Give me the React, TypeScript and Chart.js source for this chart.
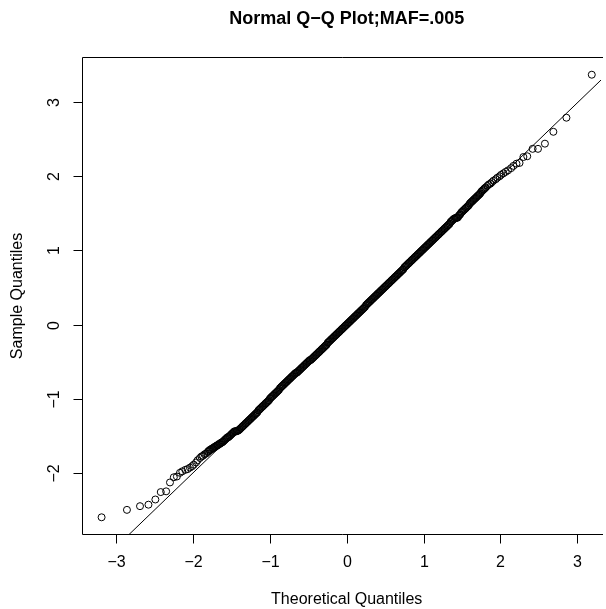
import React, { useEffect, useRef } from "react";
import { Chart, registerables } from "chart.js";

Chart.register(...registerables);

// ---- data ----
const lowerTailX = [-3.19, -2.86, -2.69, -2.58, -2.49, -2.42, -2.35, -2.30, -2.25, -2.21, -2.17, -2.14, -2.10, -2.07, -2.04, -2.01, -1.99, -1.96, -1.94, -1.91, -1.89, -1.87, -1.85, -1.83, -1.81];
const lowerTailY = [-2.60, -2.50, -2.45, -2.43, -2.36, -2.26, -2.25, -2.13, -2.06, -2.05, -2.00, -1.98, -1.96, -1.95, -1.93, -1.91, -1.89, -1.86, -1.83, -1.80, -1.78, -1.77, -1.75, -1.74, -1.72];

const middleX = [
  -1.80, -1.79, -1.78, -1.77, -1.76, -1.75, -1.74, -1.73, -1.72, -1.71,
  -1.70, -1.69, -1.68, -1.67, -1.66, -1.65, -1.64, -1.63, -1.62, -1.61,
  -1.60, -1.59, -1.58, -1.57, -1.56, -1.55, -1.54, -1.53, -1.52, -1.51,
  -1.50, -1.49, -1.48, -1.47, -1.46, -1.45, -1.44, -1.43, -1.42, -1.41,
  -1.40, -1.39, -1.38, -1.37, -1.36, -1.35, -1.34, -1.33, -1.32, -1.31,
  -1.30, -1.29, -1.28, -1.27, -1.26, -1.25, -1.24, -1.23, -1.22, -1.21,
  -1.20, -1.19, -1.18, -1.17, -1.16, -1.15, -1.14, -1.13, -1.12, -1.11,
  -1.10, -1.09, -1.08, -1.07, -1.06, -1.05, -1.04, -1.03, -1.02, -1.01,
  -1.00, -0.99, -0.98, -0.97, -0.96, -0.95, -0.94, -0.93, -0.92, -0.91,
  -0.90, -0.89, -0.88, -0.87, -0.86, -0.85, -0.84, -0.83, -0.82, -0.81,
  -0.80, -0.79, -0.78, -0.77, -0.76, -0.75, -0.74, -0.73, -0.72, -0.71,
  -0.70, -0.69, -0.68, -0.67, -0.66, -0.65, -0.64, -0.63, -0.62, -0.61,
  -0.60, -0.59, -0.58, -0.57, -0.56, -0.55, -0.54, -0.53, -0.52, -0.51,
  -0.50, -0.49, -0.48, -0.47, -0.46, -0.45, -0.44, -0.43, -0.42, -0.41,
  -0.40, -0.39, -0.38, -0.37, -0.36, -0.35, -0.34, -0.33, -0.32, -0.31,
  -0.30, -0.29, -0.28, -0.27, -0.26, -0.25, -0.24, -0.23, -0.22, -0.21,
  -0.20, -0.19, -0.18, -0.17, -0.16, -0.15, -0.14, -0.13, -0.12, -0.11,
  -0.10, -0.09, -0.08, -0.07, -0.06, -0.05, -0.04, -0.03, -0.02, -0.01,
  0.00, 0.01, 0.02, 0.03, 0.04, 0.05, 0.06, 0.07, 0.08, 0.09,
  0.10, 0.11, 0.12, 0.13, 0.14, 0.15, 0.16, 0.17, 0.18, 0.19,
  0.20, 0.21, 0.22, 0.23, 0.24, 0.25, 0.26, 0.27, 0.28, 0.29,
  0.30, 0.31, 0.32, 0.33, 0.34, 0.35, 0.36, 0.37, 0.38, 0.39,
  0.40, 0.41, 0.42, 0.43, 0.44, 0.45, 0.46, 0.47, 0.48, 0.49,
  0.50, 0.51, 0.52, 0.53, 0.54, 0.55, 0.56, 0.57, 0.58, 0.59,
  0.60, 0.61, 0.62, 0.63, 0.64, 0.65, 0.66, 0.67, 0.68, 0.69,
  0.70, 0.71, 0.72, 0.73, 0.74, 0.75, 0.76, 0.77, 0.78, 0.79,
  0.80, 0.81, 0.82, 0.83, 0.84, 0.85, 0.86, 0.87, 0.88, 0.89,
  0.90, 0.91, 0.92, 0.93, 0.94, 0.95, 0.96, 0.97, 0.98, 0.99,
  1.00, 1.01, 1.02, 1.03, 1.04, 1.05, 1.06, 1.07, 1.08, 1.09,
  1.10, 1.11, 1.12, 1.13, 1.14, 1.15, 1.16, 1.17, 1.18, 1.19,
  1.20, 1.21, 1.22, 1.23, 1.24, 1.25, 1.26, 1.27, 1.28, 1.29,
  1.30, 1.31, 1.32, 1.33, 1.34, 1.35, 1.36, 1.37, 1.38, 1.39,
  1.40, 1.41, 1.42, 1.43, 1.44, 1.45, 1.46, 1.47, 1.48, 1.49,
  1.50, 1.51, 1.52, 1.53, 1.54, 1.55, 1.56, 1.57, 1.58, 1.59,
  1.60, 1.61, 1.62, 1.63, 1.64, 1.65, 1.66, 1.67, 1.68, 1.69,
  1.70, 1.71, 1.72, 1.73, 1.74, 1.75, 1.76, 1.77, 1.78, 1.79, 1.80,
];
const middleY = [
  -1.71, -1.70, -1.69, -1.69, -1.68, -1.67, -1.67, -1.66, -1.65, -1.65,
  -1.64, -1.63, -1.63, -1.62, -1.61, -1.61, -1.60, -1.59, -1.59, -1.58,
  -1.57, -1.56, -1.55, -1.54, -1.53, -1.52, -1.52, -1.51, -1.50, -1.49,
  -1.48, -1.47, -1.46, -1.45, -1.44, -1.44, -1.44, -1.44, -1.43, -1.43,
  -1.42, -1.41, -1.40, -1.39, -1.38, -1.37, -1.36, -1.35, -1.34, -1.33,
  -1.32, -1.31, -1.30, -1.29, -1.28, -1.27, -1.26, -1.25, -1.24, -1.23,
  -1.22, -1.21, -1.20, -1.19, -1.18, -1.16, -1.15, -1.14, -1.13, -1.12,
  -1.11, -1.10, -1.09, -1.08, -1.07, -1.06, -1.05, -1.04, -1.03, -1.02,
  -1.00, -0.99, -0.98, -0.97, -0.96, -0.95, -0.94, -0.93, -0.92, -0.91,
  -0.90, -0.89, -0.88, -0.86, -0.85, -0.84, -0.83, -0.82, -0.81, -0.80,
  -0.79, -0.78, -0.77, -0.76, -0.75, -0.74, -0.73, -0.72, -0.71, -0.70,
  -0.69, -0.68, -0.67, -0.66, -0.65, -0.65, -0.64, -0.63, -0.62, -0.61,
  -0.60, -0.59, -0.58, -0.57, -0.56, -0.55, -0.54, -0.53, -0.52, -0.51,
  -0.50, -0.49, -0.48, -0.48, -0.47, -0.46, -0.45, -0.44, -0.43, -0.42,
  -0.41, -0.40, -0.39, -0.38, -0.37, -0.36, -0.35, -0.34, -0.33, -0.32,
  -0.31, -0.30, -0.29, -0.28, -0.27, -0.25, -0.24, -0.23, -0.22, -0.21,
  -0.20, -0.19, -0.18, -0.17, -0.16, -0.15, -0.14, -0.13, -0.12, -0.11,
  -0.10, -0.09, -0.08, -0.07, -0.06, -0.05, -0.04, -0.03, -0.02, -0.01,
  0.00, 0.01, 0.02, 0.03, 0.04, 0.05, 0.06, 0.07, 0.08, 0.09,
  0.10, 0.11, 0.12, 0.13, 0.14, 0.15, 0.16, 0.17, 0.18, 0.19,
  0.20, 0.21, 0.22, 0.23, 0.24, 0.26, 0.27, 0.28, 0.29, 0.30,
  0.31, 0.32, 0.33, 0.34, 0.35, 0.36, 0.37, 0.38, 0.39, 0.40,
  0.41, 0.42, 0.43, 0.44, 0.45, 0.46, 0.47, 0.48, 0.49, 0.50,
  0.51, 0.52, 0.53, 0.54, 0.55, 0.56, 0.57, 0.58, 0.59, 0.60,
  0.61, 0.62, 0.63, 0.64, 0.65, 0.66, 0.67, 0.68, 0.69, 0.70,
  0.71, 0.72, 0.73, 0.74, 0.75, 0.77, 0.78, 0.79, 0.80, 0.81,
  0.82, 0.83, 0.84, 0.85, 0.86, 0.87, 0.88, 0.89, 0.90, 0.91,
  0.92, 0.93, 0.94, 0.95, 0.96, 0.97, 0.98, 0.99, 1.00, 1.01,
  1.02, 1.03, 1.04, 1.05, 1.06, 1.07, 1.08, 1.09, 1.10, 1.11,
  1.12, 1.13, 1.14, 1.15, 1.16, 1.17, 1.18, 1.19, 1.20, 1.21,
  1.22, 1.23, 1.24, 1.25, 1.26, 1.27, 1.28, 1.29, 1.30, 1.31,
  1.32, 1.33, 1.34, 1.35, 1.36, 1.38, 1.39, 1.40, 1.41, 1.42,
  1.43, 1.43, 1.44, 1.44, 1.44, 1.45, 1.47, 1.48, 1.49, 1.51,
  1.52, 1.53, 1.54, 1.55, 1.56, 1.57, 1.58, 1.59, 1.60, 1.61,
  1.63, 1.64, 1.65, 1.66, 1.67, 1.68, 1.69, 1.70, 1.71, 1.72,
  1.73, 1.74, 1.75, 1.76, 1.77, 1.79, 1.80, 1.81, 1.82, 1.83, 1.84,
];

const upperTailX = [1.81, 1.83, 1.85, 1.87, 1.89, 1.91, 1.94, 1.96, 1.99, 2.01, 2.04, 2.07, 2.10, 2.14, 2.17, 2.21, 2.25, 2.30, 2.35, 2.42, 2.49, 2.58, 2.69, 2.86, 3.19];
const upperTailY = [1.85, 1.87, 1.89, 1.90, 1.92, 1.94, 1.96, 1.98, 2.00, 2.02, 2.04, 2.06, 2.08, 2.11, 2.14, 2.17, 2.18, 2.26, 2.27, 2.37, 2.37, 2.44, 2.60, 2.79, 3.37];

// reference line (qqline): intercept and slope
const qqIntercept = -0.005;
const qqSlope = 0.998;

// axes
const xTicks = [-3, -2, -1, 0, 1, 2, 3];
const yTicks = [-2, -1, 0, 1, 2, 3];
const xRange = [-3.445, 3.31];
const yRange = [-2.839, 3.609];

const mainTitle = "Normal Q\u2212Q Plot;MAF=.005";
const xTitle = "Theoretical Quantiles";
const yTitle = "Sample Quantiles";

const FONT_FAMILY = '"Liberation Sans", Arial, Helvetica, sans-serif';

const fmt = (v: number) => (v < 0 ? "\u2212" + Math.abs(v) : String(v));

const rAxesPlugin = {
  id: "rAxes",
  afterDraw(chart: any) {
    const { ctx, chartArea: ca, scales } = chart;
    const xs = scales.x;
    const ys = scales.y;
    const L = Math.round(ca.left) + 0.5;
    const T = Math.round(ca.top) + 0.5;
    const B = Math.round(ca.bottom) - 0.5;
    const R = ca.right + 2;
    ctx.save();
    ctx.strokeStyle = "#000";
    ctx.fillStyle = "#000";
    ctx.lineWidth = 1;
    // box (right side lies outside the cropped canvas)
    ctx.beginPath();
    ctx.moveTo(R, T);
    ctx.lineTo(L, T);
    ctx.lineTo(L, B);
    ctx.lineTo(R, B);
    ctx.stroke();

    const tl = 9;
    ctx.font = `16px ${FONT_FAMILY}`;
    ctx.textAlign = "center";
    ctx.textBaseline = "middle";
    xTicks.forEach((v) => {
      const px = Math.round(xs.getPixelForValue(v)) + 0.5;
      ctx.beginPath();
      ctx.moveTo(px, B);
      ctx.lineTo(px, B + tl);
      ctx.stroke();
      ctx.fillText(fmt(v), px, B + 28);
    });
    yTicks.forEach((v) => {
      const py = Math.round(ys.getPixelForValue(v)) + 0.5;
      ctx.beginPath();
      ctx.moveTo(L, py);
      ctx.lineTo(L - tl, py);
      ctx.stroke();
      ctx.save();
      ctx.translate(L - 28, py);
      ctx.rotate(-Math.PI / 2);
      ctx.fillText(fmt(v), 0, 0);
      ctx.restore();
    });

    const cx = (xs.getPixelForValue(xRange[0]) + xs.getPixelForValue(-xRange[0])) / 2;
    // axis titles
    ctx.fillText(xTitle, cx, B + 65);
    const cy = (ca.top + ca.bottom) / 2;
    ctx.save();
    ctx.translate(L - 65, cy);
    ctx.rotate(-Math.PI / 2);
    ctx.fillText(yTitle, 0, 0);
    ctx.restore();

    // main title
    ctx.font = `bold 18px ${FONT_FAMILY}`;
    ctx.fillText(mainTitle, cx, 19);
    ctx.restore();
  },
};

export default function App() {
  const canvasRef = useRef<HTMLCanvasElement | null>(null);

  useEffect(() => {
    const canvas = canvasRef.current;
    if (!canvas) return;
    const xs = [...lowerTailX, ...middleX, ...upperTailX];
    const ysv = [...lowerTailY, ...middleY, ...upperTailY];
    const points = xs.map((x, i) => ({ x, y: ysv[i] }));
    const lineData = xRange.map((x) => ({ x, y: qqIntercept + qqSlope * x }));

    const chart = new Chart(canvas, {
      type: "scatter",
      data: {
        datasets: [
          {
            type: "line",
            data: lineData,
            showLine: true,
            borderColor: "#000",
            borderWidth: 1,
            pointRadius: 0,
            fill: false,
          } as any,
          {
            data: points,
            pointStyle: "circle",
            pointRadius: 3.5,
            borderWidth: 1,
            borderColor: "#000",
            backgroundColor: "rgba(0,0,0,0)",
          },
        ],
      },
      options: {
        responsive: false,
        animation: false,
        events: [],
        layout: { padding: { left: 82, top: 57, right: 0, bottom: 74 } },
        plugins: {
          legend: { display: false },
          title: { display: false },
          tooltip: { enabled: false },
        },
        scales: {
          x: { type: "linear", min: xRange[0], max: xRange[1], display: false },
          y: { type: "linear", min: yRange[0], max: yRange[1], display: false },
        },
      },
      plugins: [rAxesPlugin],
    });
    return () => chart.destroy();
  }, []);

  return (
    <div style={{ position: "absolute", left: 0, top: 0, width: 606, height: 609, background: "#fff", overflow: "hidden" }}>
      <canvas ref={canvasRef} width={606} height={609} style={{ display: "block", width: 606, height: 609 }} />
    </div>
  );
}
